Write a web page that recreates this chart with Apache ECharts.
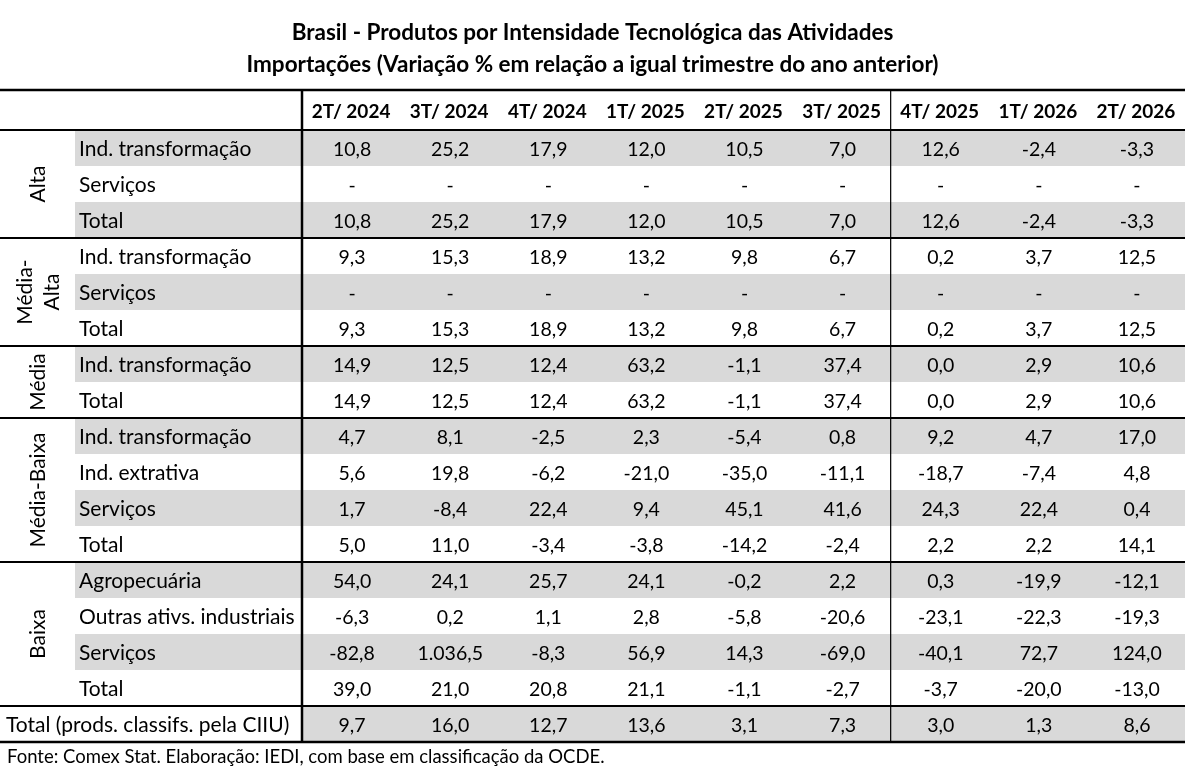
<!DOCTYPE html>
<html>
<head>
<meta charset="UTF-8">
<title>Brasil - Produtos por Intensidade Tecnológica</title>
<script src="https://cdn.jsdelivr.net/npm/echarts@6/dist/echarts.min.js"></script>
<style>
  html, body { margin: 0; padding: 0; background: #fff; }
  #main { width: 1185px; height: 772px; }
</style>
</head>
<body>
<div id="main"></div>
<script>
// colunas (trimestres)
var periods = ['2T/ 2024', '3T/ 2024', '4T/ 2024', '1T/ 2025', '2T/ 2025', '3T/ 2025', '4T/ 2025', '1T/ 2026', '2T/ 2026'];

// grupos de intensidade e quantas linhas cada um ocupa
var groupNames = ['Alta', 'Média-\nAlta', 'Média', 'Média-Baixa', 'Baixa'];
var groupSizes = [3, 3, 2, 4, 4];

var rowLabels = [
  'Ind. transformação', 'Serviços', 'Total',
  'Ind. transformação', 'Serviços', 'Total',
  'Ind. transformação', 'Total',
  'Ind. transformação', 'Ind. extrativa', 'Serviços', 'Total',
  'Agropecuária', 'Outras ativs. industriais', 'Serviços', 'Total',
  'Total (prods. classifs. pela CIIU)'
];

// valores (null = "-")
var altaInd      = [10.8, 25.2, 17.9, 12.0, 10.5, 7.0, 12.6, -2.4, -3.3];
var altaServ     = [null, null, null, null, null, null, null, null, null];
var altaTotal    = [10.8, 25.2, 17.9, 12.0, 10.5, 7.0, 12.6, -2.4, -3.3];
var mediaAltaInd   = [9.3, 15.3, 18.9, 13.2, 9.8, 6.7, 0.2, 3.7, 12.5];
var mediaAltaServ  = [null, null, null, null, null, null, null, null, null];
var mediaAltaTotal = [9.3, 15.3, 18.9, 13.2, 9.8, 6.7, 0.2, 3.7, 12.5];
var mediaInd     = [14.9, 12.5, 12.4, 63.2, -1.1, 37.4, 0.0, 2.9, 10.6];
var mediaTotal   = [14.9, 12.5, 12.4, 63.2, -1.1, 37.4, 0.0, 2.9, 10.6];
var mediaBaixaInd   = [4.7, 8.1, -2.5, 2.3, -5.4, 0.8, 9.2, 4.7, 17.0];
var mediaBaixaExtr  = [5.6, 19.8, -6.2, -21.0, -35.0, -11.1, -18.7, -7.4, 4.8];
var mediaBaixaServ  = [1.7, -8.4, 22.4, 9.4, 45.1, 41.6, 24.3, 22.4, 0.4];
var mediaBaixaTotal = [5.0, 11.0, -3.4, -3.8, -14.2, -2.4, 2.2, 2.2, 14.1];
var baixaAgro    = [54.0, 24.1, 25.7, 24.1, -0.2, 2.2, 0.3, -19.9, -12.1];
var baixaOutras  = [-6.3, 0.2, 1.1, 2.8, -5.8, -20.6, -23.1, -22.3, -19.3];
var baixaServ    = [-82.8, 1036.5, -8.3, 56.9, 14.3, -69.0, -40.1, 72.7, 124.0];
var baixaTotal   = [39.0, 21.0, 20.8, 21.1, -1.1, -2.7, -3.7, -20.0, -13.0];
var totalGeral   = [9.7, 16.0, 12.7, 13.6, 3.1, 7.3, 3.0, 1.3, 8.6];

var rowValues = [
  altaInd, altaServ, altaTotal,
  mediaAltaInd, mediaAltaServ, mediaAltaTotal,
  mediaInd, mediaTotal,
  mediaBaixaInd, mediaBaixaExtr, mediaBaixaServ, mediaBaixaTotal,
  baixaAgro, baixaOutras, baixaServ, baixaTotal,
  totalGeral
];

var FONT = 'Lato, "Open Sans", sans-serif';
var GREY = '#d9d9d9';
var HEADER_H = 40;
var LABEL_X = 75;
var TXT_DY = 1.5;

// 1036.5 -> "1.036,5"
function fmt(v) {
  if (v === null) return '-';
  var s = Math.abs(v).toFixed(1).split('.');
  var ip = s[0].replace(/\B(?=(\d{3})+(?!\d))/g, '.');
  return (v < 0 ? '-' : '') + ip + ',' + s[1];
}

var cellData = [];
rowValues.forEach(function (arr, i) {
  arr.forEach(function (v, j) { cellData.push([j, i, v]); });
});
var rowData = rowLabels.map(function (l, i) { return [0, i]; });

var groupData = [];
var start = 0;
groupSizes.forEach(function (n, g) {
  groupData.push([0, start, n, g]);
  start += n;
});

var myChart = echarts.init(document.getElementById('main'));

var option = {
  backgroundColor: '#fff',
  animation: false,
  title: {
    text: 'Brasil - Produtos por Intensidade Tecnológica das Atividades\nImportações (Variação % em relação a igual trimestre do ano anterior)',
    left: 'center',
    top: 12,
    textStyle: { fontFamily: FONT, fontWeight: 'bold', fontSize: 22.5, color: '#000', lineHeight: 32 }
  },
  graphic: [{
    type: 'text',
    left: 7,
    top: 748,
    style: { text: 'Fonte: Comex Stat. Elaboração: IEDI, com base em classificação da OCDE.', font: '18.5px ' + FONT, fill: '#000' }
  }],
  grid: { left: 302, right: 0, top: 130, bottom: 30 },
  xAxis: {
    type: 'category',
    position: 'top',
    data: periods,
    axisLine: { show: false },
    axisTick: { show: false },
    splitLine: { show: false },
    axisLabel: { interval: 0, margin: 9, fontFamily: FONT, fontWeight: 'bold', fontSize: 19, color: '#000' }
  },
  yAxis: {
    type: 'category',
    inverse: true,
    data: rowLabels,
    axisLine: { show: false },
    axisTick: { show: false },
    axisLabel: { show: false },
    splitLine: { show: false }
  },
  series: [
    {
      // fundo cinza + rótulo da linha
      type: 'custom',
      clip: false,
      z: 1,
      data: rowData,
      renderItem: function (params, api) {
        var i = api.value(1);
        var c = api.coord([0, i]);
        var h = api.size([1, 1])[1];
        var cs = params.coordSys;
        var isTotal = i === rowLabels.length - 1;
        var children = [];
        if (i % 2 === 0) {
          var x0 = isTotal ? cs.x : LABEL_X;
          children.push({
            type: 'rect',
            shape: { x: x0, y: c[1] - h / 2, width: cs.x + cs.width - x0, height: h },
            style: { fill: GREY }
          });
        }
        children.push({
          type: 'text',
          style: {
            text: rowLabels[i], x: isTotal ? 6 : LABEL_X + 4, y: c[1] + TXT_DY,
            verticalAlign: 'middle', align: 'left', font: '21px ' + FONT, fill: '#000'
          }
        });
        return { type: 'group', children: children };
      }
    },
    {
      // valores
      type: 'custom',
      clip: false,
      z: 2,
      data: cellData,
      renderItem: function (params, api) {
        var p = api.coord([api.value(0), api.value(1)]);
        var v = cellData[params.dataIndex][2];
        return {
          type: 'text',
          style: {
            text: fmt(v), x: p[0] + 1, y: p[1] + TXT_DY,
            align: 'center', verticalAlign: 'middle', font: '19.5px ' + FONT, fill: '#000'
          }
        };
      }
    },
    {
      // rótulos dos grupos + linhas separadoras
      type: 'custom',
      clip: false,
      z: 3,
      data: groupData,
      renderItem: function (params, api) {
        var s = api.value(1), n = api.value(2), g = api.value(3);
        var h = api.size([1, 1])[1];
        var cs = params.coordSys;
        var yTop = api.coord([0, s])[1] - h / 2;
        var yBot = yTop + n * h;
        var children = [{
          type: 'text',
          x: LABEL_X / 2 + 1,
          y: (yTop + yBot) / 2,
          rotation: Math.PI / 2,
          style: {
            text: groupNames[g], align: 'center', verticalAlign: 'middle',
            font: '21px ' + FONT, fill: '#000', lineHeight: 27
          }
        }, {
          type: 'line',
          shape: { x1: 0, y1: yTop, x2: cs.x + cs.width, y2: yTop },
          style: { stroke: '#000', lineWidth: 2 }
        }];
        if (g === groupNames.length - 1) {
          // linha do total geral, fundo da tabela, topo e verticais
          var totTop = yBot;
          var tabBot = totTop + h;
          var tabTop = cs.y - HEADER_H;
          var xSplit = api.coord([6, 0])[0] - api.size([1, 1])[0] / 2;
          children.push(
            { type: 'line', shape: { x1: 0, y1: totTop, x2: cs.x + cs.width, y2: totTop }, style: { stroke: '#000', lineWidth: 2 } },
            { type: 'line', shape: { x1: 0, y1: tabBot, x2: cs.x + cs.width, y2: tabBot }, style: { stroke: '#000', lineWidth: 2.5 } },
            { type: 'line', shape: { x1: 0, y1: tabTop, x2: cs.x + cs.width, y2: tabTop }, style: { stroke: '#000', lineWidth: 2.5 } },
            { type: 'line', shape: { x1: cs.x, y1: tabTop, x2: cs.x, y2: tabBot }, style: { stroke: '#000', lineWidth: 2.5 } },
            { type: 'line', shape: { x1: xSplit, y1: tabTop, x2: xSplit, y2: tabBot }, style: { stroke: '#000', lineWidth: 1.2 } }
          );
        }
        return { type: 'group', children: children };
      }
    }
  ]
};

myChart.setOption(option);
</script>
</body>
</html>
